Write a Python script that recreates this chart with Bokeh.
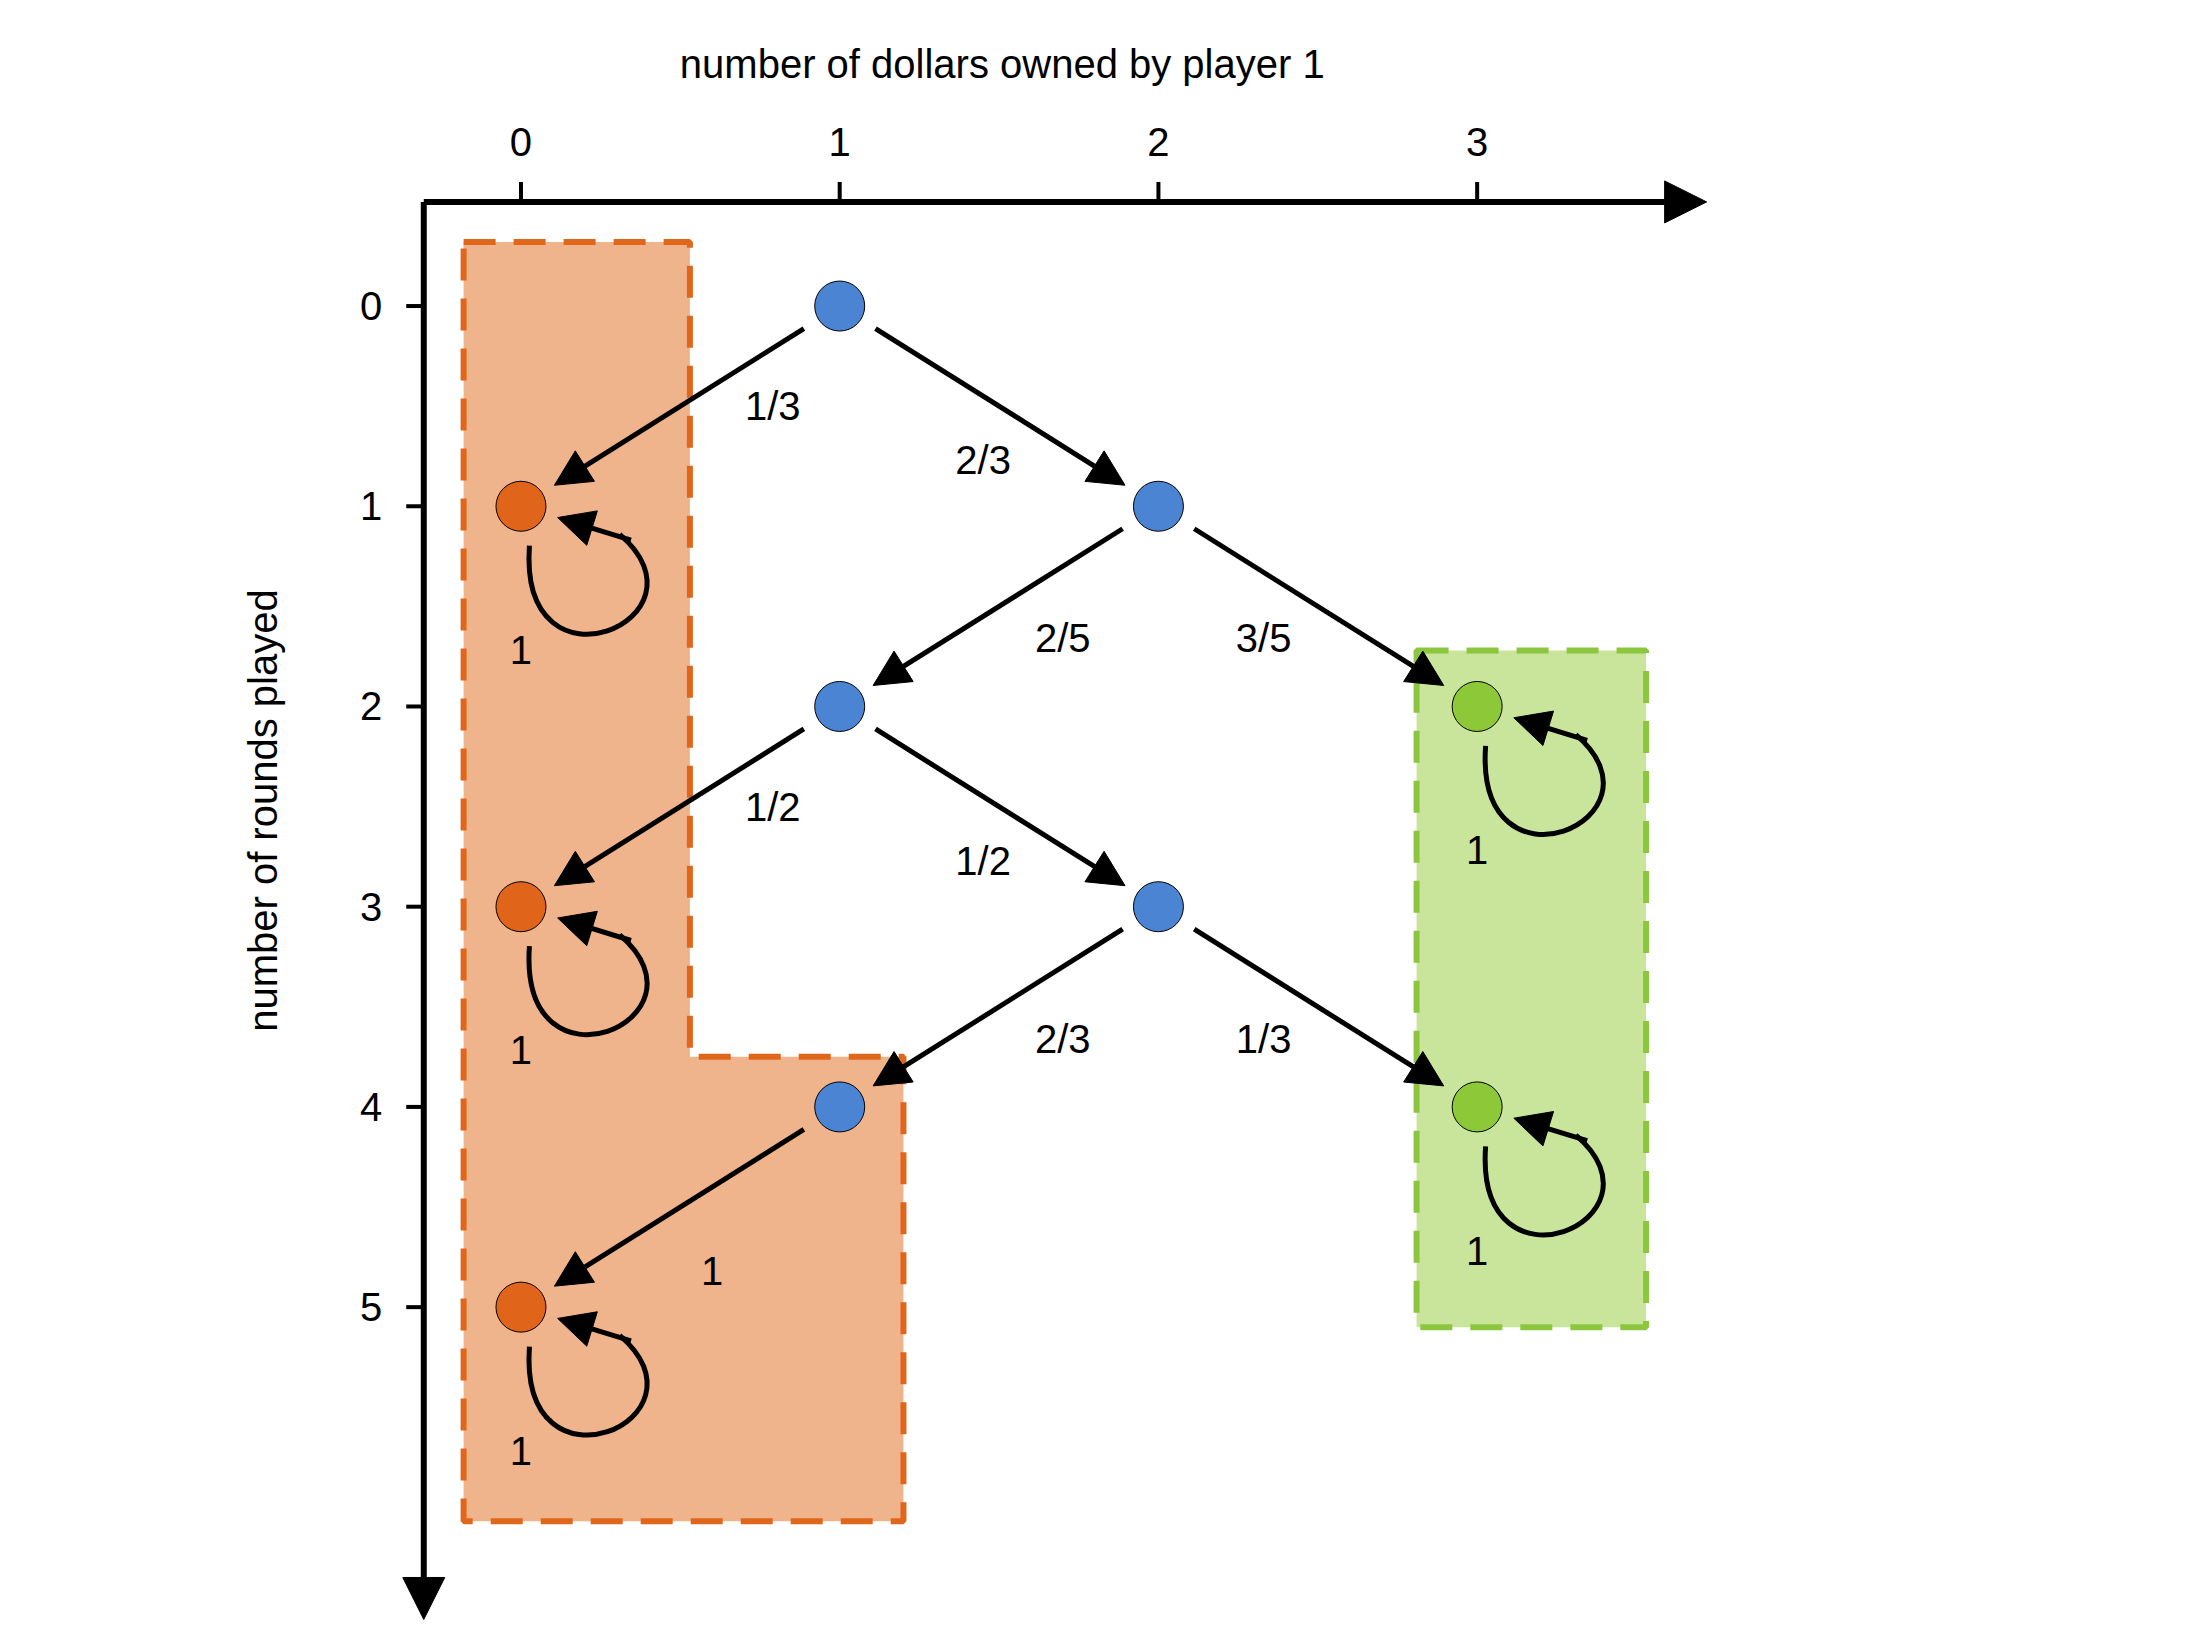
import numpy as np
from bokeh.plotting import figure
from bokeh.models import ColumnDataSource, Arrow, NormalHead, Range1d
from bokeh.core.properties import value
from bokeh.embed import file_html
from bokeh.resources import INLINE

# data
x_ticks = [0, 1, 2, 3]
y_ticks = [0, 1, 2, 3, 4, 5]
blue_x = [1, 2, 1, 2, 1]
blue_y = [0, 1, 2, 3, 4]
orange_x = [0, 0, 0]
orange_y = [1, 3, 5]
green_x = [3, 3]
green_y = [2, 4]
edges_from = [(1, 0), (1, 0), (2, 1), (2, 1), (1, 2), (1, 2), (2, 3), (2, 3), (1, 4)]
edges_to = [(0, 1), (2, 1), (1, 2), (3, 2), (0, 3), (2, 3), (1, 4), (3, 4), (0, 5)]
edge_labels = ["1/3", "2/3", "2/5", "3/5", "1/2", "1/2", "2/3", "1/3", "1"]
label_x = [0.79, 1.45, 1.70, 2.33, 0.79, 1.45, 1.70, 2.33, 0.60]
label_y = [0.50, 0.77, 1.66, 1.66, 2.50, 2.77, 3.66, 3.66, 4.82]
orange_region_x = [-0.18, 0.53, 0.53, 1.2, 1.2, -0.18]
orange_region_y = [-0.32, -0.32, 3.75, 3.75, 6.07, 6.07]
green_region_x = [2.81, 3.53, 3.53, 2.81]
green_region_y = [1.72, 1.72, 5.10, 5.10]

UX, UY = 226.0, 142.2  # reference px per data unit
FONT = value("Liberation Sans")
FS = "40px"

p = figure(width=2189, height=1636, output_backend="svg", toolbar_location=None,
           x_range=Range1d(-1.633, 5.235), y_range=Range1d(6.645, -1.526),
           min_border=0, outline_line_color=None)
p.axis.visible = False
p.grid.visible = False

# regions
p.patch(orange_region_x, orange_region_y, fill_color="#f0b48c", line_color="#e0661c",
        line_width=6, line_dash="32 18")
p.patch(green_region_x, green_region_y, fill_color="#c9e59b", line_color="#8cc63f",
        line_width=6, line_dash="32 18")

# axes
ax_y, ay_x = -0.52, -0.305
p.add_layout(Arrow(end=NormalHead(size=42, fill_color="black", line_color="black"),
                   x_start=ay_x, y_start=ax_y, x_end=3.72, y_end=ax_y, line_width=6))
p.add_layout(Arrow(end=NormalHead(size=42, fill_color="black", line_color="black"),
                   x_start=ay_x, y_start=ax_y, x_end=ay_x, y_end=6.56, line_width=6))
p.segment(x0=x_ticks, y0=[ax_y] * 4, x1=x_ticks, y1=[ax_y - 0.1] * 4, line_width=4, color="black")
p.segment(x0=[ay_x] * 6, y0=y_ticks, x1=[ay_x - 0.055] * 6, y1=y_ticks, line_width=4, color="black")
p.text(x=x_ticks, y=[-0.82] * 4, text=[str(t) for t in x_ticks], text_font=FONT,
       text_font_size=FS, text_align="center", text_baseline="middle")
p.text(x=[-0.47] * 6, y=y_ticks, text=[str(t) for t in y_ticks], text_font=FONT,
       text_font_size=FS, text_align="center", text_baseline="middle")
p.text(x=[1.51], y=[-1.21], text=["number of dollars owned by player 1"], text_font=FONT,
       text_font_size=FS, text_align="center", text_baseline="middle")
p.text(x=[-0.81], y=[2.52], text=["number of rounds played"], text_font=FONT,
       text_font_size=FS, text_align="center", text_baseline="middle", angle=np.pi / 2)

# edges
xs0, ys0, xs1, ys1 = [], [], [], []
for (a, b), (c, d) in zip(edges_from, edges_to):
    dx, dy = (c - a) * UX, (d - b) * UY
    L = np.hypot(dx, dy)
    xs0.append(a + dx * 30 / L / UX); ys0.append(b + dy * 30 / L / UY)
    xs1.append(c - dx * 28 / L / UX); ys1.append(d - dy * 28 / L / UY)
p.add_layout(Arrow(end=NormalHead(size=36, fill_color="black", line_color="black"),
                   source=ColumnDataSource(dict(x0=xs0, y0=ys0, x1=xs1, y1=ys1)),
                   x_start="x0", y_start="y0", x_end="x1", y_end="y1", line_width=5))
p.text(x=label_x, y=label_y, text=edge_labels, text_font=FONT, text_font_size=FS,
       text_align="center", text_baseline="middle")

# self loops
loop_x = orange_x + green_x
loop_y = orange_y + green_y
ox = lambda v: v / UX
oy = lambda v: v / UY
p.bezier(x0=[x + ox(6) for x in loop_x], y0=[y + oy(28) for y in loop_y],
         x1=[x + ox(70) for x in loop_x], y1=[y + oy(20) for y in loop_y],
         cx0=[x + ox(-2) for x in loop_x], cy0=[y + oy(140) for y in loop_y],
         cx1=[x + ox(140) for x in loop_x], cy1=[y + oy(80) for y in loop_y],
         line_width=5, color="black")
p.add_layout(Arrow(end=NormalHead(size=36, fill_color="black", line_color="black"),
                   source=ColumnDataSource(dict(
                       x0=[x + ox(78) for x in loop_x], y0=[y + oy(24) for y in loop_y],
                       x1=[x + ox(26) for x in loop_x], y1=[y + oy(8) for y in loop_y])),
                   x_start="x0", y_start="y0", x_end="x1", y_end="y1", line_width=5))
p.text(x=loop_x, y=[y + oy(102) for y in loop_y], text=["1"] * len(loop_x), text_font=FONT,
       text_font_size=FS, text_align="center", text_baseline="middle")

# nodes
p.scatter(blue_x, blue_y, size=50, fill_color="#4a84d2", line_color="black", line_width=1)
p.scatter(orange_x, orange_y, size=50, fill_color="#e0641a", line_color="black", line_width=1)
p.scatter(green_x, green_y, size=50, fill_color="#8dc838", line_color="black", line_width=1)

open("out.html", "w").write(file_html(p, INLINE))
